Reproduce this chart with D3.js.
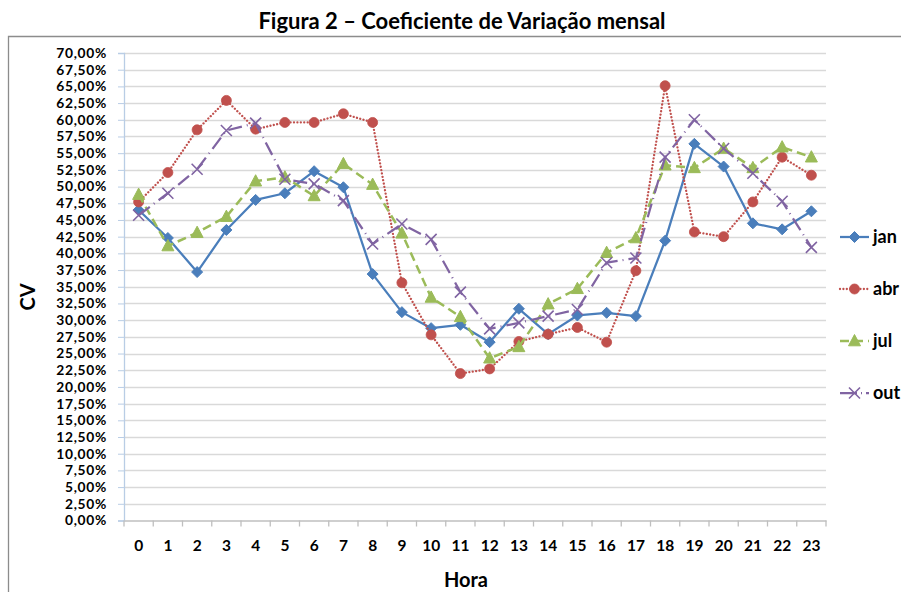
<!DOCTYPE html>
<html>
<head>
<meta charset="utf-8">
<script src="https://cdn.jsdelivr.net/npm/d3@7"></script>
<style>
  body { margin: 0; background: #fff; }
  svg { display: block; font-family: Lato, "Open Sans", sans-serif; font-weight: bold; }
</style>
</head>
<body>
<svg id="chart" width="901" height="592"></svg>
<script>
const horas = d3.range(0, 24);
const yTicks = d3.range(0, 70.01, 2.5);

const jan = [46.5, 42.3, 37.2, 43.5, 48.0, 49.0, 52.3, 49.9, 36.9, 31.2, 28.8, 29.3,
  26.7, 31.7, 27.9, 30.7, 31.1, 30.6, 41.9, 56.4, 53.0, 44.5, 43.6, 46.3];
const abr = [47.7, 52.1, 58.5, 62.9, 58.6, 59.6, 59.6, 60.9, 59.6, 35.6, 27.8, 22.0,
  22.7, 26.8, 27.9, 28.9, 26.7, 37.4, 65.1, 43.2, 42.5, 47.7, 54.4, 51.7];
const jul = [48.8, 41.1, 43.1, 45.5, 50.8, 51.4, 48.6, 53.4, 50.3, 43.0, 33.4, 30.5,
  24.3, 26.0, 32.4, 34.7, 40.1, 42.3, 53.2, 52.8, 55.7, 52.8, 55.9, 54.4];
const out = [45.7, 49.0, 52.6, 58.4, 59.5, 51.1, 50.4, 47.9, 41.4, 44.4, 42.1, 34.2,
  28.7, 29.6, 30.6, 31.6, 38.6, 39.3, 54.4, 60.0, 55.7, 52.0, 47.8, 40.9];

const series = [
  { name: 'jan', values: jan, color: '#4a7ebb', dash: null, width: 2.25, marker: 'diamond' },
  { name: 'abr', values: abr, color: '#c0504d', dash: '0.01,3.4', width: 2.3, marker: 'circle' },
  { name: 'jul', values: jul, color: '#9bbb59', dash: '9,5', width: 2.5, marker: 'triangle' },
  { name: 'out', values: out, color: '#8064a2', dash: '14,5,1,5', width: 2.25, marker: 'x' }
];

const svg = d3.select('#chart');
const margin = { left: 124, right: 826, top: 53, bottom: 520.5 };

const x = d3.scaleBand().domain(horas).range([margin.left, margin.right]);
const y = d3.scaleLinear().domain([0, 70]).range([margin.bottom, margin.top]);
const cx = h => x(h) + x.bandwidth() / 2;

// moldura do gráfico (cortada à direita e em baixo)
svg.append('path')
  .attr('d', 'M8.5,600 V36.5 H901')
  .attr('fill', 'none')
  .attr('stroke', '#8c8c8c')
  .attr('stroke-width', 1.3);

// título
svg.append('text')
  .attr('x', 462).attr('y', 29)
  .attr('text-anchor', 'middle')
  .attr('font-size', 22)
  .attr('fill', '#000')
  .text('Figura 2 – Coeficiente de Variação mensal');

// grade horizontal
svg.append('g')
  .selectAll('line')
  .data(yTicks.filter(d => d > 0))
  .enter()
  .append('line')
  .attr('x1', margin.left).attr('x2', margin.right)
  .attr('y1', d => Math.round(y(d)) + 0.5).attr('y2', d => Math.round(y(d)) + 0.5)
  .attr('stroke', '#d9d9d9')
  .attr('stroke-width', 1.3);

// eixo y
const yAxis = svg.append('g')
  .attr('transform', `translate(${margin.left},0)`)
  .call(d3.axisLeft(y)
    .tickValues(yTicks)
    .tickSize(6)
    .tickPadding(11)
    .tickFormat(d => d.toFixed(2).replace('.', ',') + '%'));
yAxis.select('.domain').attr('stroke', '#b9cde5').attr('stroke-width', 1.3);
yAxis.selectAll('.tick line').attr('stroke', '#b9cde5');
yAxis.selectAll('.tick text')
  .attr('font-size', 13.8)
  .attr('letter-spacing', 0.7)
  .attr('font-family', 'Lato, sans-serif')
  .attr('font-weight', 'bold')
  .attr('fill', '#000');

// eixo x
const xAxis = svg.append('g')
  .attr('transform', `translate(0,${margin.bottom})`)
  .call(d3.axisBottom(x).tickSize(0).tickPadding(19));
xAxis.select('.domain').attr('stroke', '#bfbfbf').attr('stroke-width', 1.3);
xAxis.selectAll('.tick text')
  .attr('font-size', 15.5)
  .attr('font-family', 'Lato, sans-serif')
  .attr('font-weight', 'bold')
  .attr('fill', '#000');
// marcas entre as categorias
xAxis.selectAll('line.sep')
  .data(d3.range(0, 25))
  .enter()
  .append('line')
  .attr('class', 'sep')
  .attr('x1', i => margin.left + i * x.step())
  .attr('x2', i => margin.left + i * x.step())
  .attr('y1', 0).attr('y2', 6)
  .attr('stroke', '#bfbfbf')
  .attr('stroke-width', 1.3);

// títulos dos eixos
svg.append('text')
  .attr('x', 466).attr('y', 587)
  .attr('text-anchor', 'middle')
  .attr('font-size', 20)
  .text('Hora');
svg.append('text')
  .attr('transform', 'translate(35,297) rotate(-90)')
  .attr('text-anchor', 'middle')
  .attr('font-size', 20)
  .text('CV');

// marcadores
function drawMarker(sel, s) {
  if (s.marker === 'diamond') {
    sel.append('path').attr('d', 'M0,-5.5 L5.5,0 L0,5.5 L-5.5,0 Z').attr('fill', s.color).attr('stroke', s.color);
  } else if (s.marker === 'circle') {
    sel.append('circle').attr('r', 5).attr('fill', s.color).attr('stroke', s.color).attr('stroke-width', 0.8);
  } else if (s.marker === 'triangle') {
    sel.append('path').attr('d', 'M0,-6.5 L6,4.8 L-6,4.8 Z').attr('fill', s.color).attr('stroke', s.color);
  } else {
    sel.append('path').attr('d', 'M-5.5,-5.5 L5.5,5.5 M-5.5,5.5 L5.5,-5.5').attr('fill', 'none')
      .attr('stroke', s.color).attr('stroke-width', 1.6);
  }
}

const line = d3.line().x((d, i) => cx(i)).y(d => y(d));

series.forEach(s => {
  const g = svg.append('g');
  g.append('path')
    .datum(s.values)
    .attr('d', line)
    .attr('fill', 'none')
    .attr('stroke', s.color)
    .attr('stroke-width', s.width)
    .attr('stroke-dasharray', s.dash)
    .attr('stroke-linejoin', 'round')
    .attr('stroke-linecap', s.marker === 'circle' ? 'round' : 'butt');
  g.selectAll('g.pt')
    .data(s.values)
    .enter()
    .append('g')
    .attr('class', 'pt')
    .attr('transform', (d, i) => `translate(${cx(i)},${y(d)})`)
    .each(function () { drawMarker(d3.select(this), s); });
});

// legenda
const legY = d3.scalePoint().domain(series.map(s => s.name)).range([237, 393]);
const leg = svg.append('g')
  .selectAll('g')
  .data(series)
  .enter()
  .append('g')
  .attr('transform', s => `translate(840,${legY(s.name)})`);
leg.append('line')
  .attr('x1', 0).attr('x2', 29)
  .attr('stroke', s => s.color)
  .attr('stroke-width', s => s.width)
  .attr('stroke-dasharray', s => s.marker === 'x' ? '17,4,1,4' : s.dash)
  .attr('stroke-linecap', s => s.marker === 'circle' ? 'round' : 'butt');
leg.append('g')
  .attr('transform', 'translate(14.5,0)')
  .each(function (s) { drawMarker(d3.select(this), s); });
leg.append('text')
  .attr('x', 33).attr('y', 6)
  .attr('font-size', 18)
  .text(s => s.name);
</script>
</body>
</html>
